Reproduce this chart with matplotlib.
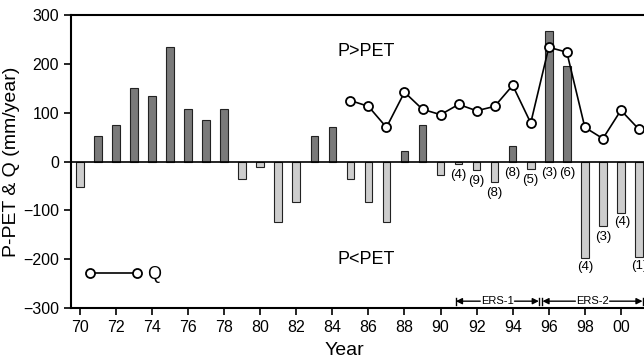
import numpy as np
import matplotlib
matplotlib.use("Agg")
import matplotlib.pyplot as plt
from matplotlib.lines import Line2D

plt.rcParams['font.family'] = ['Liberation Sans', 'DejaVu Sans']

YEARS = np.arange(1970, 2002)
P_PET = [-52, 53, 75, 150, 135, 235, 107, 85, 107, -35,
         -12, -123, -83, 53, 70, -35, -83, -123, 22, 75,
         -28, -5, -18, -42, 32, -15, 267, 195, -197, -133,
         -105, -195]

Q_YEARS = np.arange(1985, 2002)
Q = [125, 113, 70, 142, 107, 96, 117, 104, 113, 156, 79, 234, 224, 70, 47, 105, 66]

# counts written under the bars
COUNT_YEARS = [1991, 1992, 1993, 1994, 1995, 1996, 1997, 1998, 1999, 2000.1, 2001]
COUNT_Y = [-27, -39, -64, -23, -37, -23, -23, -215, -154, -123, -213]
COUNT_TXT = ["(4)", "(9)", "(8)", "(8)", "(5)", "(3)", "(6)", "(4)", "(3)", "(4)", "(1)"]

ERS = [("ERS-1", 1990.85, 1995.45), ("ERS-2", 1995.65, 2001.2)]

fig = plt.figure(figsize=(6.44, 3.63), dpi=100)
ax = fig.add_axes([0.110, 0.1515, 0.89, 0.807])

x = YEARS - 1900
cols = ["#7a7a7a" if v > 0 else "#cdcdcd" for v in P_PET]
ax.bar(x, P_PET, width=0.42, color=cols, edgecolor="#222222", linewidth=0.8, zorder=2)
ax.axhline(0, color="black", linewidth=1.2, zorder=3)

ax.plot(Q_YEARS - 1900, Q, color="black", linewidth=1.2, marker="o",
        markersize=6.5, markerfacecolor="white", markeredgecolor="black",
        markeredgewidth=1.3, zorder=4)

for xx, yy, t in zip(COUNT_YEARS, COUNT_Y, COUNT_TXT):
    ax.text(xx - 1900, yy, t, ha="center", va="center", fontsize=9.5, zorder=5)

for name, x0, x1 in ERS:
    x0 -= 1900
    x1 -= 1900
    xm = (x0 + x1) / 2
    yv = -286
    ax.text(xm, yv, name, ha="center", va="center", fontsize=8, zorder=5)
    half = 0.95
    for start, end in [(xm - half, x0), (xm + half, x1)]:
        ax.annotate("", xy=(end, yv), xytext=(start, yv),
                    arrowprops=dict(arrowstyle="-|>", color="black", lw=1.0,
                                    mutation_scale=9, shrinkA=0, shrinkB=0))
        ax.plot([end, end], [yv - 7, yv + 7], color="black", linewidth=1.0)

ax.text(85.9, 225, "P>PET", ha="center", va="center", fontsize=13)
ax.text(85.9, -200, "P<PET", ha="center", va="center", fontsize=13)

handle = Line2D([], [], color="black", linewidth=1.2, marker="o", markersize=6.5,
                markerfacecolor="white", markeredgecolor="black", markeredgewidth=1.3)
ax.legend([handle], ["Q"], numpoints=2, frameon=False, loc="lower left",
          bbox_to_anchor=(-0.005, 0.03), handlelength=3.2, fontsize=13,
          handletextpad=0.3)

ax.set_xlim(69.5, 101.28)
ax.set_ylim(-300, 300)
ax.set_yticks([-300, -200, -100, 0, 100, 200, 300])
ticks = list(range(70, 102, 2))
ax.set_xticks(ticks)
ax.set_xticklabels(["%02d" % (t % 100) for t in ticks])
ax.tick_params(axis="both", direction="out", length=5, width=1.2, labelsize=11.5)
ax.spines["right"].set_visible(False)
for s in ["left", "top", "bottom"]:
    ax.spines[s].set_linewidth(1.5)

ax.set_xlabel("Year", fontsize=14)
ax.set_ylabel("P-PET & Q (mm/year)", fontsize=14)
ax.xaxis.set_label_coords(0.478, -0.115)
ax.yaxis.set_label_coords(-0.089, 0.5)

fig.savefig("out.png", dpi=100)
